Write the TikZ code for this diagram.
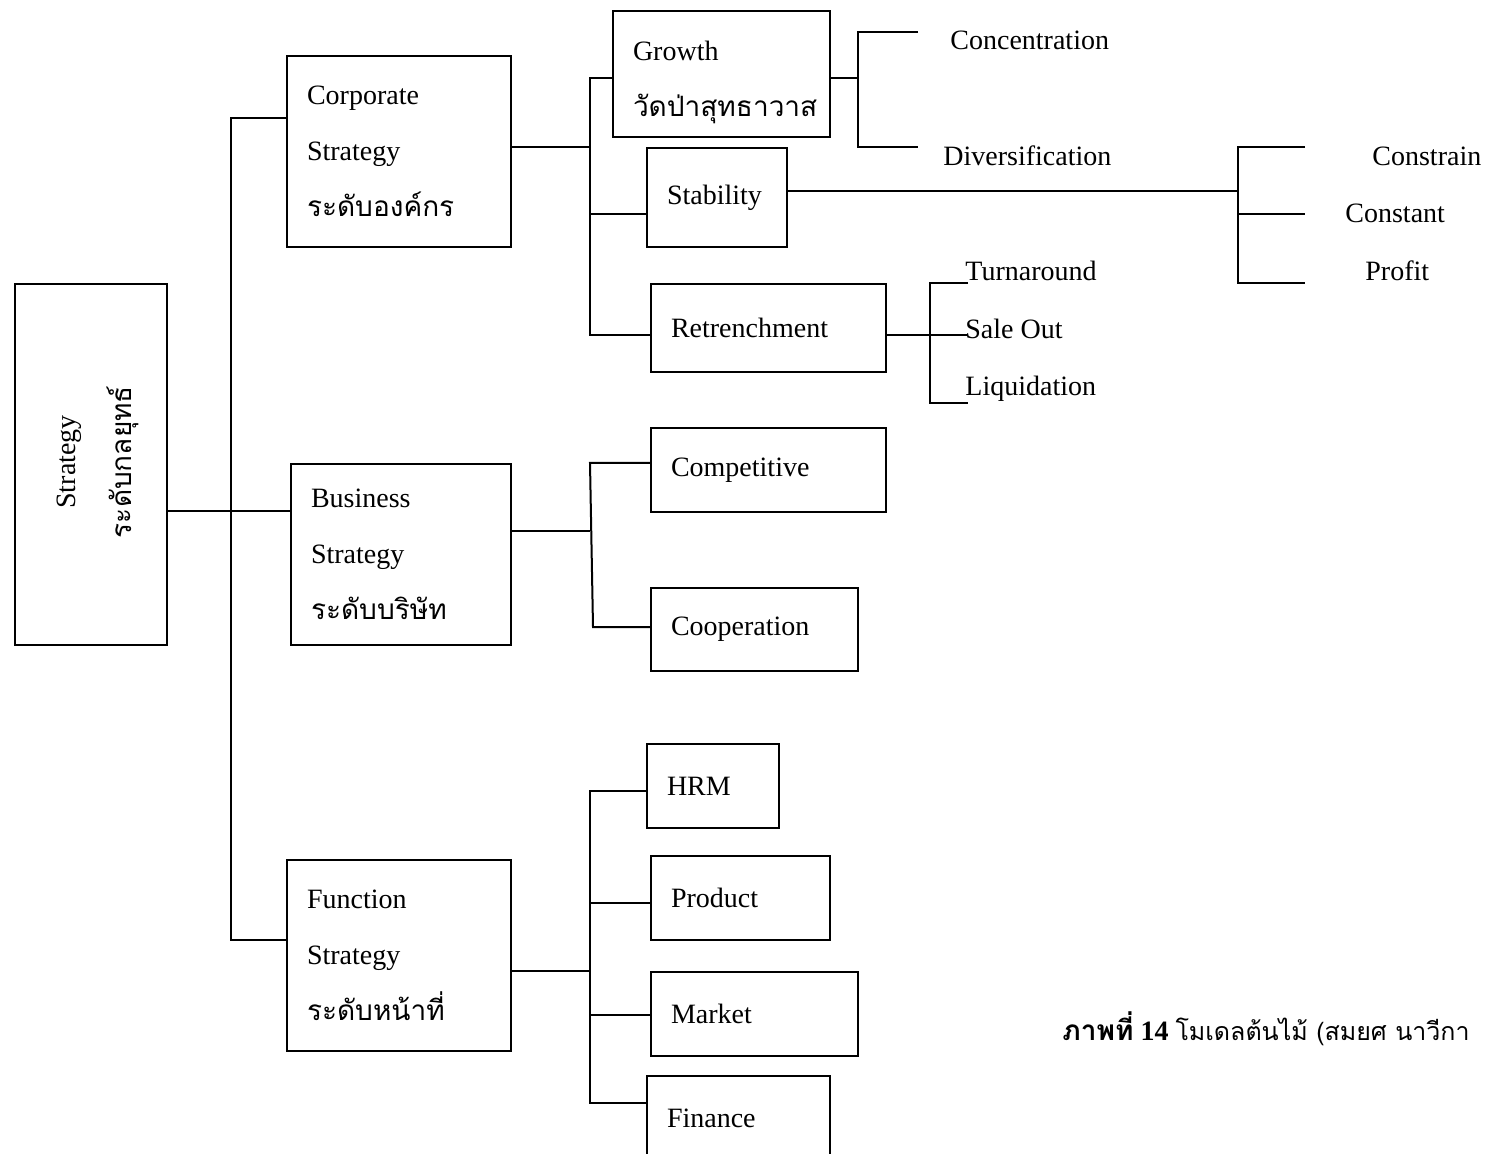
\documentclass[tikz,border=0pt]{standalone}
\usepackage{fontspec}
\setmainfont{Liberation Serif}
\newfontfamily\thaifont[Script=Thai]{Loma}
\tikzset{
	box/.style 2 args={draw, line width=1pt, anchor=north west, align=left, inner xsep=10pt, inner ysep=0pt, text width=#1, minimum height=#2},
	leaf/.style={anchor=base west, inner sep=0pt},
	conn/.style={line width=1pt}
}
\begin{document}
\begin{tikzpicture}[x=0.5pt, y=-0.5pt, font=\fontsize{14}{28}\selectfont]
	\clip (0,0) rectangle (1488,1154);
	\node[draw, line width=1pt, anchor=north west, minimum width=76pt, minimum height=180.5pt, inner sep=0pt] (root) at (14,283) {};
	\node[rotate=90, align=center] (roott) at (98,462) {Strategy\\\thaifont ระดับกลยุทธ์};
	\node[box={92pt}{95.5pt}] (corp) at (286,55) {Corporate\\Strategy\\\thaifont ระดับองค์กร};
	\node[box={90pt}{90.5pt}] (busi) at (290,463) {Business\\Strategy\\\thaifont ระดับบริษัท};
	\node[box={92pt}{95.5pt}] (func) at (286,859) {Function\\Strategy\\\thaifont ระดับหน้าที่};
	\node[box={88.5pt}{63pt}] (growth) at (612,10) {\rule{0pt}{18pt}Growth\\\thaifont วัดป่าสุทธาวาส};
	\node[box={50pt}{49.5pt}] (stab) at (646,147) {Stability};
	\node[box={97.5pt}{44pt}] (retr) at (650,283) {Retrenchment};
	\node[box={97.5pt}{42pt}] (comp) at (650,427) {Competitive};
	\node[box={83.5pt}{41.5pt}] (coop) at (650,587) {Cooperation};
	\node[box={46pt}{42pt}] (hrm) at (646,743) {HRM};
	\node[box={69.5pt}{42pt}] (prod) at (650,855) {Product};
	\node[box={83.5pt}{42pt}] (mark) at (650,971) {Market};
	\node[box={71.5pt}{42pt}] (fin) at (646,1075) {Finance};
	\path foreach \n/\x/\y/\t in {conc/950/50/Concentration, divr/943/166/Diversification,
		cstr/1372/166/Constrain, cons/1345/223/Constant, prof/1365/281/Profit,
		turn/965/281/Turnaround, sale/965/339/Sale Out, liqu/965/396/Liquidation}
		{(\x,\y) node[leaf] (\n) {\t}};
	\node[leaf] (cap) at (1062,1040) {{\thaifont\bfseries ภาพที่} \textbf{14} {\thaifont\fontsize{12.5}{14}\selectfont โมเดลต้นไม้ (สมยศ นาวีกา}};
	% trunk
	\coordinate (t0) at (231,511);
	\coordinate (t1) at (231,118);
	\coordinate (t2) at (231,940);
	\draw[conn] (root.east |- t0) -- (busi.west |- t0);
	\draw[conn] (corp.west |- t1) -- (t1) -- (t2) -- (func.west |- t2);
	% corporate
	\foreach \k/\y in {0/147,1/78,2/214,3/335} {\coordinate (c\k) at (590,\y);}
	\draw[conn] (corp.east |- c0) -- (c0);
	\draw[conn] (growth.west |- c1) -- (c1) -- (c3) -- (retr.west |- c3);
	\draw[conn] (c2) -- (stab.west |- c2);
	\foreach \k/\y in {0/78,1/32,2/147} {\coordinate (g\k) at (858,\y); \coordinate (g\k e) at (918,\y);}
	\draw[conn] (growth.east |- g0) -- (g0);
	\draw[conn] (g1e) -- (g1) -- (g2) -- (g2e);
	\foreach \k/\y in {0/191,1/147,2/214,3/283} {\coordinate (s\k) at (1238,\y); \coordinate (s\k e) at (1305,\y);}
	\draw[conn] (stab.east |- s0) -- (s0);
	\draw[conn] (s1e) -- (s1) -- (s3) -- (s3e) (s2) -- (s2e);
	\foreach \k/\y in {0/335,1/283,2/403} {\coordinate (r\k) at (930,\y); \coordinate (r\k e) at (968,\y);}
	\draw[conn] (retr.east |- r0) -- (r0e);
	\draw[conn] (r1e) -- (r1) -- (r2) -- (r2e);
	% business
	\coordinate (b0) at (590,531);
	\coordinate (b1) at (590,463);
	\coordinate (b2) at (593,627);
	\draw[conn] (busi.east |- b0) -- (b0);
	\draw[conn] (comp.west |- b1) -- (b1) -- (b2) -- (coop.west |- b2);
	% function
	\foreach \k/\y in {0/971,1/791,2/903,3/1015,4/1103} {\coordinate (f\k) at (590,\y);}
	\draw[conn] (func.east |- f0) -- (f0);
	\draw[conn] (hrm.west |- f1) -- (f1) -- (f4) -- (fin.west |- f4);
	\draw[conn] (f2) -- (prod.west |- f2) (f3) -- (mark.west |- f3);
\end{tikzpicture}
\end{document}
